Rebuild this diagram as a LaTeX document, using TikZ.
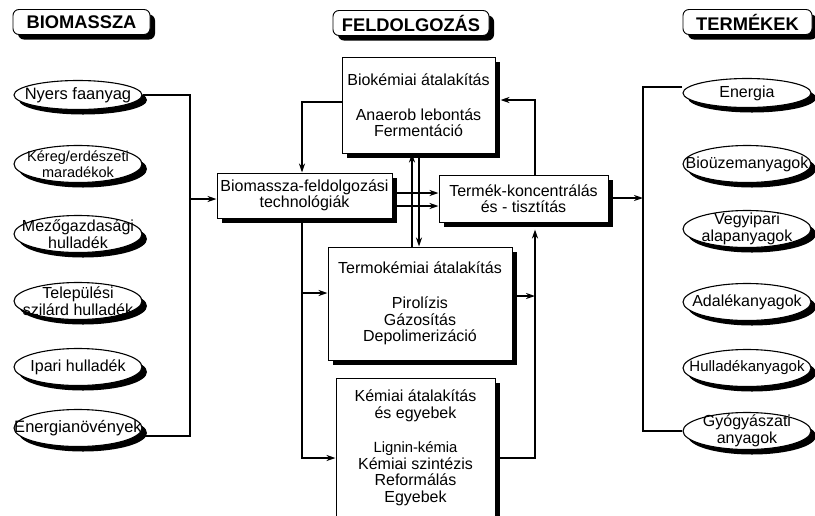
\documentclass[tikz,border=0pt]{standalone}
\usepackage{fontspec}
\setmainfont{Liberation Sans}
\usetikzlibrary{shapes.geometric,shadows,arrows.meta}

\begin{document}
\begin{tikzpicture}[x=1pt,y=-1pt,
  shad/.style={drop shadow={shadow xshift=5pt,shadow yshift=-5pt,fill=black,opacity=1}},
  head/.style={draw,fill=white,rounded corners=6pt,line width=0.9pt,shad,minimum height=25pt,inner sep=0pt,font=\fontsize{18.3}{20}\selectfont\bfseries},
  proc/.style={draw,fill=white,line width=1pt,shad,inner sep=0pt,align=center,font=\fontsize{16}{16.5}\selectfont},
  oval/.style={draw,fill=white,ellipse,line width=1.1pt,shad,inner sep=0pt,minimum width=128pt,minimum height=37pt},
  ovtext/.style={align=center,font=\fontsize{16}{17}\selectfont},
  arr/.style={-{Stealth[length=9pt,width=6pt]},line width=1.6pt},
  link/.style={line width=1.2pt}]
\useasboundingbox (0,0) rectangle (815,515);
% headers
\node[head,minimum width=137pt] (hbio) at (81.5,22) {BIOMASSZA};
\node[head,minimum width=156pt] (hfeld) at (411,23) {FELDOLGOZÁS};
\node[head,minimum width=129pt] (hterm) at (747.5,22) {TERMÉKEK};
% biomassza
\node[oval,minimum height=29pt,label={[ovtext,font=\fontsize{16.5}{17}\selectfont]center:Nyers faanyag}] (nyers) at (78,95) {};
\node[oval,label={[ovtext,font=\fontsize{14.5}{16}\selectfont]center:{Kéreg/erdészeti\\maradékok}}] (kereg) at (78,164) {};
\node[oval,label={[ovtext]center:{Mezőgazdasági\\hulladék}}] (mezo) at (78,234) {};
\node[oval,label={[ovtext]center:{Települési\\szilárd hulladék}}] (telep) at (78,301) {};
\node[oval,label={[ovtext]center:Ipari hulladék}] (ipari) at (78,367) {};
\node[oval,label={[ovtext,font=\fontsize{16.5}{17}\selectfont]center:Energianövények}] (energ) at (78,428) {};
% termekek
\node[oval,minimum height=29pt,label={[ovtext]center:Energia}] (energia) at (747,93) {};
\node[oval,label={[ovtext]center:Bioüzemanyagok}] (bioua) at (747,164) {};
\node[oval,label={[ovtext]center:{Vegyipari\\alapanyagok}}] (vegy) at (747,229) {};
\node[oval,label={[ovtext]center:Adalékanyagok}] (adal) at (747,302) {};
\node[oval,label={[ovtext,font=\fontsize{15}{17}\selectfont]center:Hulladékanyagok}] (hull) at (747,368) {};
\node[oval,label={[ovtext]center:{Gyógyászati\\anyagok}}] (gyogy) at (747,431) {};
% feldolgozas
\node[proc,minimum width=153pt,minimum height=96pt] (bio) at (418.5,105) {Biokémiai átalakítás\\[18.5pt]Anaerob lebontás\\Fermentáció};
\node[proc,minimum width=175pt,minimum height=45pt] (feld) at (304.5,195.5) {Biomassza-feldolgozási\\technológiák};
\node[proc,minimum width=169pt,minimum height=47pt] (termek) at (523.5,198.5) {Termék-koncentrálás\\és - tisztítás};
\node[proc,minimum width=184pt,minimum height=113pt] (termo) at (420,303.5) {Termokémiai átalakítás\\[19pt]Pirolízis\\Gázosítás\\Depolimerizáció};
\node[proc,minimum width=159pt,minimum height=140pt] (kemiai) at (415.5,448) {Kémiai átalakítás\\és egyebek\\[18pt]\fontsize{14.8}{17}\selectfont Lignin-kémia\\Kémiai szintézis\\Reformálás\\Egyebek};
% junctions
\coordinate (ljoin) at (190,199);
\coordinate (rjoin) at (643,198);
\coordinate (lv) at (302,0);
\coordinate (rv) at (535,0);
% left bracket
\draw[link] (nyers.east) -| (ljoin);
\draw[link] ([yshift=-8pt]energ.east) -| (ljoin);
\draw[arr] (ljoin) -- (feld.west |- ljoin);
% right bracket
\draw[link] ([yshift=6pt]energia.west) -| (rjoin);
\draw[link] (gyogy.west) -| (rjoin);
\draw[arr] (termek.east |- rjoin) -- (rjoin);
% processing flows
\draw[arr] ([yshift=3pt]bio.west) -| (feld.north -| lv);
\draw[arr] (feld.east |- 0,193) -- (termek.west |- 0,193);
\draw[arr] (feld.east |- 0,206) -- (termek.west |- 0,206);
\draw[arr] (termo.north -| 412,0) -- (bio.south -| 412,0);
\draw[arr] (bio.south -| 419,0) -- (termo.north -| 419,0);
\draw[arr] (termek.north -| rv) |- ([xshift=5pt,yshift=5pt]bio.east);
\draw[arr] (feld.south -| lv) |- (kemiai.west |- 0,458);
\draw[arr] (lv |- 0,293) -- (termo.west |- 0,293);
\draw[arr] (termo.east |- 0,296) -- (rv |- 0,296);
\draw[arr] (kemiai.east |- 0,458) -| ([yshift=-7pt]termek.south -| rv);
\end{tikzpicture}
\end{document}
